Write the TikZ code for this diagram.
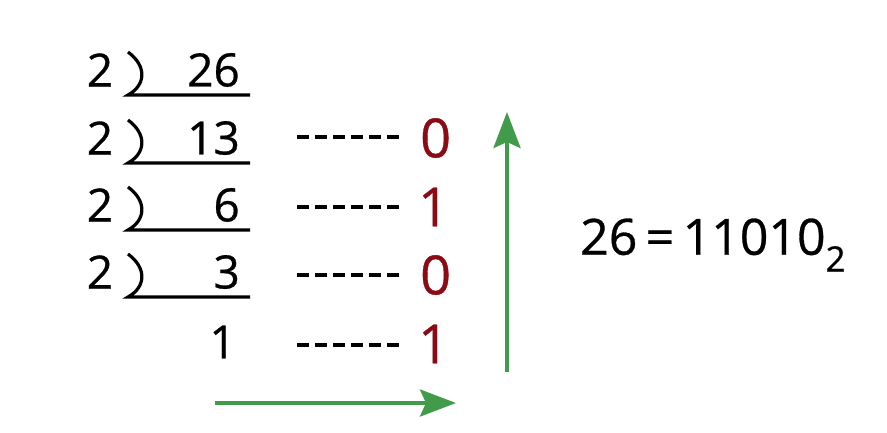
\documentclass[tikz,border=0pt]{standalone}
\usepackage{fontspec}
\setmainfont{Open Sans}[FakeBold=0.6]
\usetikzlibrary{arrows.meta}
\definecolor{myred}{RGB}{140,10,20}
\definecolor{mygreen}{RGB}{65,155,75}
\begin{document}
\begin{tikzpicture}[x=1pt,y=-1pt,
  num/.style={inner sep=0pt,font=\fontsize{46}{50}\selectfont},
  bit/.style={inner sep=0pt,text=myred,font=\fontsize{54}{60}\selectfont},
  bar/.style={line width=3.2pt},
  dashline/.style={line width=4pt,dash pattern=on 12pt off 6pt},
  garrow/.style={mygreen,line width=4pt,-{Stealth[length=36pt,width=27pt,inset=6pt]}}]
\useasboundingbox (0,0) rectangle (887,432);
% divisors
\foreach \i/\y in {1/70,2/138,3/205,4/272}{
  \node[num] (d\i) at (100,\y) {2};
  \draw[bar] (128,\y-18) .. controls (147,\y-4) and (146,\y+15) .. (128,\y+25) -- (250,\y+25);
}
\node[num,anchor=east] (q1) at (240,70) {26};
\node[num,anchor=east] (q2) at (240,138) {13};
\node[num,anchor=east] (q3) at (240,205) {6};
\node[num,anchor=east] (q4) at (240,272) {3};
\node[num,anchor=east] (q5) at (236,342) {1};
% remainders
\node[bit,anchor=west] (r1) at (420,138) {0};
\node[bit,anchor=west] (r2) at (418,207) {1};
\node[bit,anchor=west] (r3) at (420,275) {0};
\node[bit,anchor=west] (r4) at (418,344) {1};
\foreach \i/\y in {1/137,2/207,3/275,4/345}{
  \coordinate (s\i) at (297,\y);
  \coordinate (e\i) at (403,\y);
  \draw[dashline] (s\i) -- (e\i);
}
% arrows
\coordinate (v0) at (507,372);
\coordinate (v1) at (507,112);
\draw[garrow] (v0) -- (v1);
\coordinate (h0) at (215,403);
\coordinate (h1) at (456,403);
\draw[garrow] (h0) -- (h1);
% result
\node[num,font=\fontsize{50}{56}\selectfont,anchor=west] (res) at (580,245) {26\,=\,11010\textsubscript{2}};
\end{tikzpicture}
\end{document}
